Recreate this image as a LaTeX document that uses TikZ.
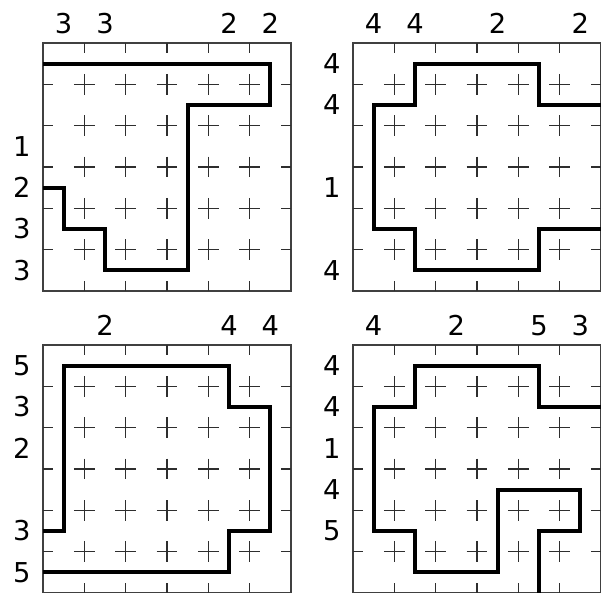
\documentclass[tikz,border=0pt]{standalone}
\usepackage{fontspec}
\setmainfont{DejaVu Sans}
\newcommand\pgrid{%
  \draw[frameline] (0,0) rectangle (6,6);
  \foreach \i in {1,...,5} {
    \draw[tickline] (\i,0) -- (\i,0.25);
    \draw[tickline] (\i,6) -- (\i,5.75);
    \draw[tickline] (0,\i) -- (0.25,\i);
    \draw[tickline] (6,\i) -- (5.75,\i);
    \foreach \j in {1,...,5} {
      \draw[tickline] (\i-0.25,\j) -- (\i+0.25,\j) (\i,\j-0.25) -- (\i,\j+0.25);
    }
  }%
}
\begin{document}
\begin{tikzpicture}[x=31pt,y=-31pt,
  frameline/.style={draw=black!75, line width=0.85pt},
  tickline/.style={draw=black!82, line width=0.85pt},
  loopline/.style={draw=black, line width=2.8pt, line join=miter, line cap=butt},
  lbl/.style={font=\fontsize{20.5}{24}\selectfont, inner sep=0pt}]
\useasboundingbox (0,0) rectangle (14.540,14.323);

% top-left
\begin{scope}[shift={(1.04,1.04)}]
  \pgrid
  \foreach \c/\v in {0/3,1/3,4/2,5/2} \node[lbl] (tl-t\c) at (\c+0.5,-0.475) {\v};
  \foreach \r/\v in {2/1,3/2,4/3,5/3} \node[lbl] (tl-l\r) at (-0.51,\r+0.5) {\v};
  \draw[loopline] (0,0.5) -- (5.5,0.5) -- (5.5,1.5) -- (3.5,1.5) -- (3.5,5.5)
    -- (1.5,5.5) -- (1.5,4.5) -- (0.5,4.5) -- (0.5,3.5) -- (0,3.5);
\end{scope}

% top-right
\begin{scope}[shift={(8.54,1.04)}]
  \pgrid
  \foreach \c/\v in {0/4,1/4,3/2,5/2} \node[lbl] (tr-t\c) at (\c+0.5,-0.475) {\v};
  \foreach \r/\v in {0/4,1/4,3/1,5/4} \node[lbl] (tr-l\r) at (-0.51,\r+0.5) {\v};
  \draw[loopline] (6,1.5) -- (4.5,1.5) -- (4.5,0.5) -- (1.5,0.5) -- (1.5,1.5)
    -- (0.5,1.5) -- (0.5,4.5) -- (1.5,4.5) -- (1.5,5.5) -- (4.5,5.5) -- (4.5,4.5) -- (6,4.5);
\end{scope}

% bottom-left
\begin{scope}[shift={(1.04,8.347)}]
  \pgrid
  \foreach \c/\v in {1/2,4/4,5/4} \node[lbl] (bl-t\c) at (\c+0.5,-0.475) {\v};
  \foreach \r/\v in {0/5,1/3,2/2,4/3,5/5} \node[lbl] (bl-l\r) at (-0.51,\r+0.5) {\v};
  \draw[loopline] (0,4.5) -- (0.5,4.5) -- (0.5,0.5) -- (4.5,0.5) -- (4.5,1.5)
    -- (5.5,1.5) -- (5.5,4.5) -- (4.5,4.5) -- (4.5,5.5) -- (0,5.5);
\end{scope}

% bottom-right
\begin{scope}[shift={(8.54,8.347)}]
  \pgrid
  \foreach \c/\v in {0/4,2/2,4/5,5/3} \node[lbl] (br-t\c) at (\c+0.5,-0.475) {\v};
  \foreach \r/\v in {0/4,1/4,2/1,3/4,4/5} \node[lbl] (br-l\r) at (-0.51,\r+0.5) {\v};
  \draw[loopline] (6,1.5) -- (4.5,1.5) -- (4.5,0.5) -- (1.5,0.5) -- (1.5,1.5)
    -- (0.5,1.5) -- (0.5,4.5) -- (1.5,4.5) -- (1.5,5.5) -- (3.5,5.5) -- (3.5,3.5)
    -- (5.5,3.5) -- (5.5,4.5) -- (4.5,4.5) -- (4.5,6);
\end{scope}
\end{tikzpicture}
\end{document}
